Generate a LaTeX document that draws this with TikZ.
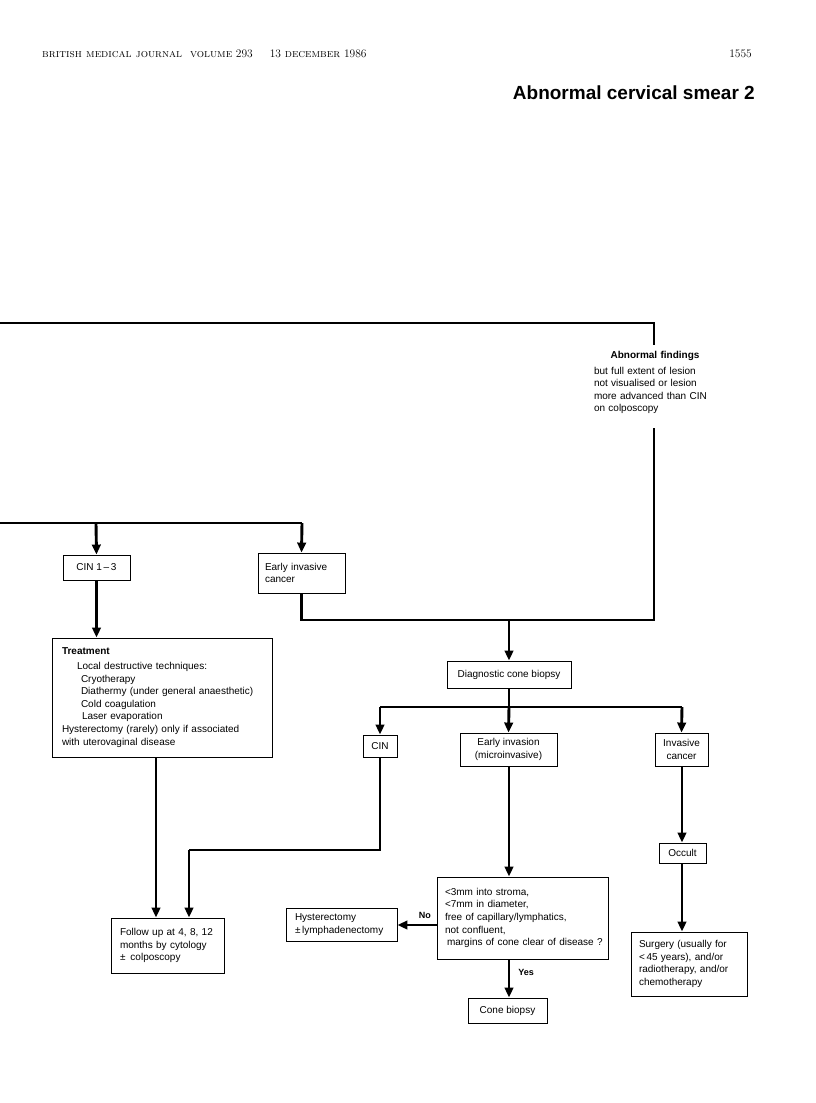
\documentclass[tikz,border=0pt]{standalone}
\usepackage{fontspec}
\newfontfamily\diag{Liberation Sans}
\newfontfamily\titlef{Liberation Sans}
\usetikzlibrary{arrows.meta}
\begin{document}
\begin{tikzpicture}[x=1pt,y=-1pt,
  txt/.style={font=\diag\fontsize{10}{12.6}\selectfont, inner sep=0pt},
  box/.style={txt, draw, line width=0.9pt, inner xsep=9pt, inner ysep=0pt},
  conn/.style={line width=2.9pt},
  arr/.style={conn, -{Triangle[length=10pt,width=8.5pt]}},
  yn/.style={font=\diag\bfseries\fontsize{9}{10}\selectfont, inner sep=0pt}
]
\useasboundingbox (0,0) rectangle (816,1103);

% header
\node[anchor=base west, font=\fontsize{11.5}{13}\selectfont, inner sep=0pt] (hdr) at (42,57)
  {\textsc{british medical journal}\hspace{8pt}\textsc{volume} 293\hspace{17pt}13 \textsc{december} 1986};
\node[anchor=base east, font=\fontsize{11.5}{13}\selectfont, inner sep=0pt] (pg) at (752,57) {1555};
\node[anchor=base east, font=\titlef\bfseries\fontsize{19}{22}\selectfont, inner sep=0pt] (title) at (755,99) {Abnormal cervical smear 2};

% abnormal findings text
\node[txt, text width=122pt, anchor=north] (abn) at (655,351)
  {\centering\textbf{Abnormal findings}\par\vspace{3pt}\raggedright
   but full extent of lesion\\not visualised or lesion\\more advanced than CIN\\on colposcopy\par};

% boxes
\node[box, minimum width=67pt, minimum height=25pt] (cin13) at (96.5,567.5) {CIN 1\,–\,3};
\node[box, minimum width=87pt, minimum height=40pt, text width=73pt, align=left, inner xsep=7pt] (early) at (301.5,573) {Early invasive\\cancer};
\node[box, minimum width=220pt, minimum height=119pt, text width=200pt, align=left, inner xsep=10pt] (treat) at (162,697.5)
  {\textbf{Treatment}\\[2pt]
   \hspace*{15pt}Local destructive techniques:\\
   \hspace*{19pt}Cryotherapy\\
   \hspace*{19pt}Diathermy (under general anaesthetic)\\
   \hspace*{19pt}Cold coagulation\\
   \hspace*{20pt}Laser evaporation\\
   Hysterectomy (rarely) only if associated\\
   with uterovaginal disease};
\node[box, minimum width=124pt, minimum height=27pt] (dcb) at (509,674.5) {Diagnostic cone biopsy};
\node[box, minimum width=34pt, minimum height=22pt, inner xsep=4pt] (cin) at (380,746) {CIN};
\node[box, minimum width=97pt, minimum height=33pt, align=center, inner xsep=4pt] (einv) at (508.5,749.5) {Early invasion\\(microinvasive)};
\node[box, minimum width=53pt, minimum height=33pt, align=center, inner xsep=3pt] (inv) at (681.5,749.5) {Invasive\\cancer};
\node[box, minimum width=113pt, minimum height=55pt, text width=95pt, align=left, inner xsep=9pt] (fu) at (167.5,945.5)
  {Follow up at 4, 8, 12\\months by cytology\\±\, colposcopy};
\node[box, minimum width=171pt, minimum height=82pt, text width=163pt, align=left, inner xsep=4pt] (crit) at (522.5,918)
  {\hspace*{4pt}<3mm into stroma,\\\hspace*{4pt}<7mm in diameter,\\\hspace*{4pt}free of capillary/lymphatics,\\\hspace*{4pt}not confluent,\\\hspace*{6pt}margins of cone clear of disease ?};
\node[box, minimum width=111pt, minimum height=33pt, text width=93pt, align=left, inner xsep=9pt] (hyst) at (341.5,924.5)
  {Hysterectomy\\±\,lymphadenectomy};
\node[box, minimum width=79pt, minimum height=25pt, inner xsep=3pt] (cone) at (507.5,1010.5) {Cone biopsy};
\node[box, minimum width=47pt, minimum height=20pt, inner xsep=3pt] (occ) at (682.5,853) {Occult};
\node[box, minimum width=116pt, minimum height=64pt, text width=100pt, align=left, inner xsep=8pt] (surg) at (689,964)
  {Surgery (usually for\\<\,45 years), and/or\\radiotherapy, and/or\\chemotherapy};

% coordinates
\coordinate (tl) at (0,323);
\coordinate (ml) at (0,523);
\coordinate (abnTop) at (654,345);
\coordinate (abnBot) at (654,428);
\coordinate (j1) at (654,620);
\coordinate (j2) at (509,620);
\coordinate (k1) at (96,523);
\coordinate (k2) at (302,523);
\coordinate (d1) at (509,707);
\coordinate (d2) at (380,707);
\coordinate (d3) at (682,707);
\coordinate (c1) at (380,850);
\coordinate (c2) at (189,850);

% connectors
\draw[conn] (tl) -| (abnTop);
\draw[conn] (early.south) |- (j1) -- (abnBot);
\draw[arr] (j2) -- (dcb.north);

\draw[conn] (ml) -- (k2);
\draw[arr] (k1) -- (cin13.north);
\draw[arr] (k2) -- (early.north);
\draw[arr] (cin13.south) -- (cin13.south |- treat.north);

\draw[conn] (dcb.south) -- (d1);
\draw[conn] (d2) -- (d3);
\draw[arr] (d2) -- (cin.north);
\draw[arr] (d1) -- (einv.north);
\draw[arr] (d3) -- (inv.north);

\draw[arr] (treat.south -| 156,0) -- (156,0 |- fu.north);
\draw[conn] (cin.south) -- (c1) -- (c2);
\draw[arr] (c2) -- (c2 |- fu.north);

\draw[arr] (einv.south -| 509,0) -- (509,0 |- crit.north);
\draw[arr] (crit.west |- 0,925) -- (hyst.east |- 0,925) node[yn, pos=0.3, above=5pt] {No};
\draw[arr] (crit.south -| 509,0) -- (509,0 |- cone.north) node[yn, pos=0.35, right=8pt] {Yes};

\draw[arr] (inv.south -| 682,0) -- (682,0 |- occ.north);
\draw[arr] (occ.south -| 682,0) -- (682,0 |- surg.north);
\end{tikzpicture}
\end{document}
